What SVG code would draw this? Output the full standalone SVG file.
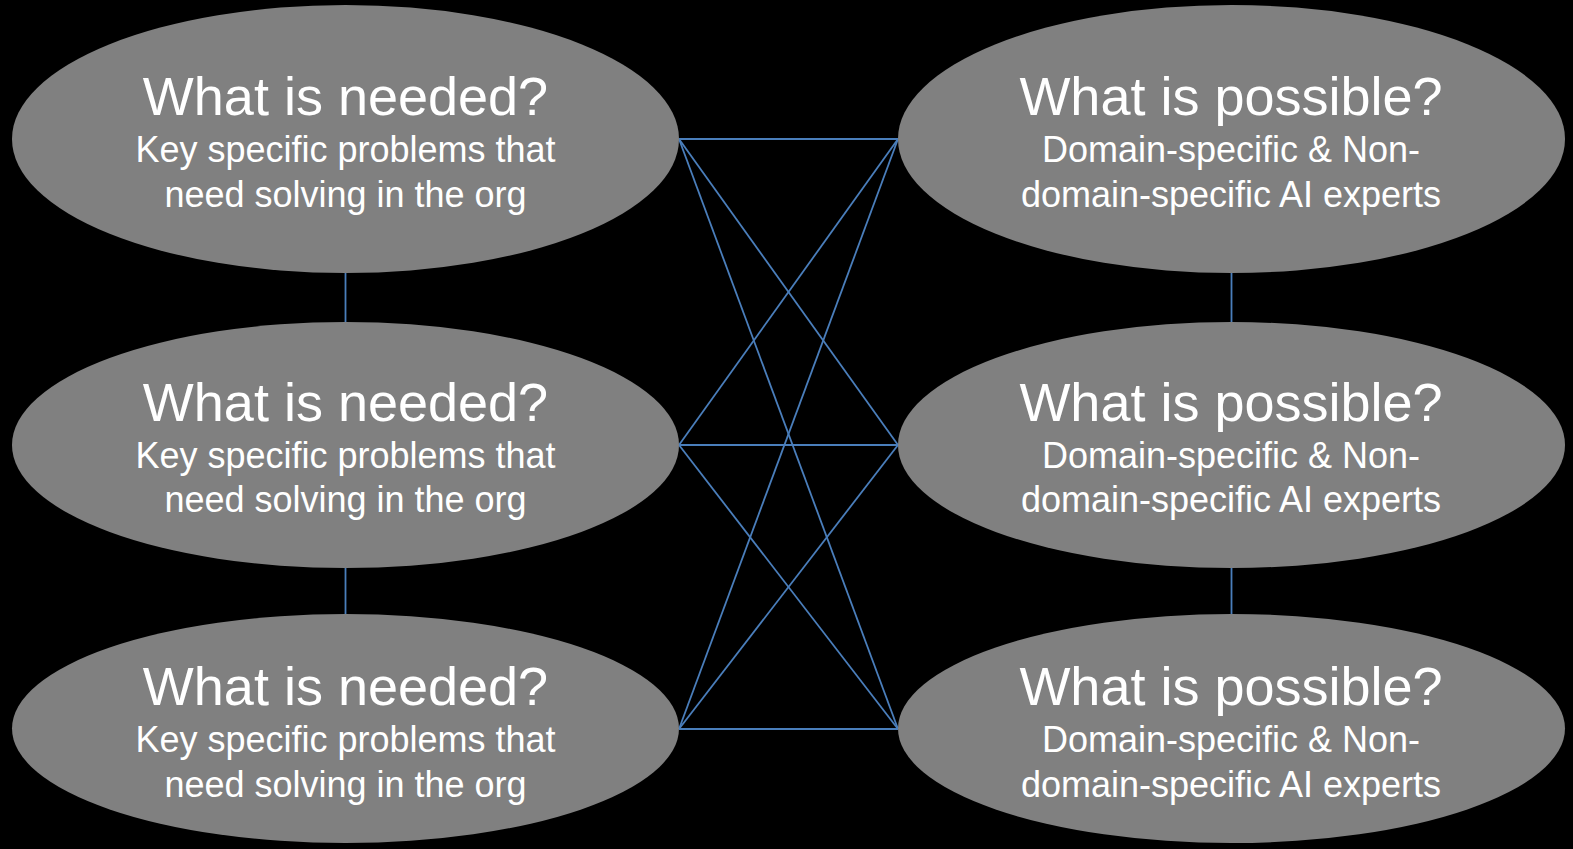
<svg xmlns="http://www.w3.org/2000/svg" width="1573" height="849" viewBox="0 0 1573 849">
<style>
.node{fill:#808080;}
.t{fill:#ffffff;font-family:"Liberation Sans",Arial,sans-serif;text-anchor:middle;}
.h{font-size:54px;}
.s{font-size:36px;}
.c{stroke:#4a7ebb;stroke-width:1.8;fill:none;}
</style>
<rect width="1573" height="849" fill="#000000"/>
<g id="connectors">
<line class="c" x1="345.5" y1="273" x2="345.5" y2="322"/>
<line class="c" x1="345.5" y1="568" x2="345.5" y2="614"/>
<line class="c" x1="1231.5" y1="273" x2="1231.5" y2="322"/>
<line class="c" x1="1231.5" y1="568" x2="1231.5" y2="614"/>
<line class="c" x1="679" y1="139" x2="898" y2="139"/>
<line class="c" x1="679" y1="139" x2="898" y2="445"/>
<line class="c" x1="679" y1="139" x2="898" y2="729"/>
<line class="c" x1="679" y1="445" x2="898" y2="139"/>
<line class="c" x1="679" y1="445" x2="898" y2="445"/>
<line class="c" x1="679" y1="445" x2="898" y2="729"/>
<line class="c" x1="679" y1="729" x2="898" y2="139"/>
<line class="c" x1="679" y1="729" x2="898" y2="445"/>
<line class="c" x1="679" y1="729" x2="898" y2="729"/>
</g>
<g id="needed1">
<ellipse class="node" cx="345.5" cy="139" rx="333.5" ry="134"/>
<text class="t h" x="345.5" y="115">What is needed?</text>
<text class="t s" x="345.5" y="162">Key specific problems that</text>
<text class="t s" x="345.5" y="207">need solving in the org</text>
</g>
<g id="needed2">
<ellipse class="node" cx="345.5" cy="445" rx="333.5" ry="123"/>
<text class="t h" x="345.5" y="421">What is needed?</text>
<text class="t s" x="345.5" y="468">Key specific problems that</text>
<text class="t s" x="345.5" y="512">need solving in the org</text>
</g>
<g id="needed3">
<ellipse class="node" cx="345.5" cy="728.5" rx="333.5" ry="114.5"/>
<text class="t h" x="345.5" y="705">What is needed?</text>
<text class="t s" x="345.5" y="752">Key specific problems that</text>
<text class="t s" x="345.5" y="797">need solving in the org</text>
</g>
<g id="possible1">
<ellipse class="node" cx="1231.5" cy="139" rx="333.5" ry="134"/>
<text class="t h" x="1231" y="115">What is possible?</text>
<text class="t s" x="1231" y="162">Domain-specific &amp; Non-</text>
<text class="t s" x="1231" y="207">domain-specific AI experts</text>
</g>
<g id="possible2">
<ellipse class="node" cx="1231.5" cy="445" rx="333.5" ry="123"/>
<text class="t h" x="1231" y="421">What is possible?</text>
<text class="t s" x="1231" y="468">Domain-specific &amp; Non-</text>
<text class="t s" x="1231" y="512">domain-specific AI experts</text>
</g>
<g id="possible3">
<ellipse class="node" cx="1231.5" cy="728.5" rx="333.5" ry="114.5"/>
<text class="t h" x="1231" y="705">What is possible?</text>
<text class="t s" x="1231" y="752">Domain-specific &amp; Non-</text>
<text class="t s" x="1231" y="797">domain-specific AI experts</text>
</g>
</svg>
